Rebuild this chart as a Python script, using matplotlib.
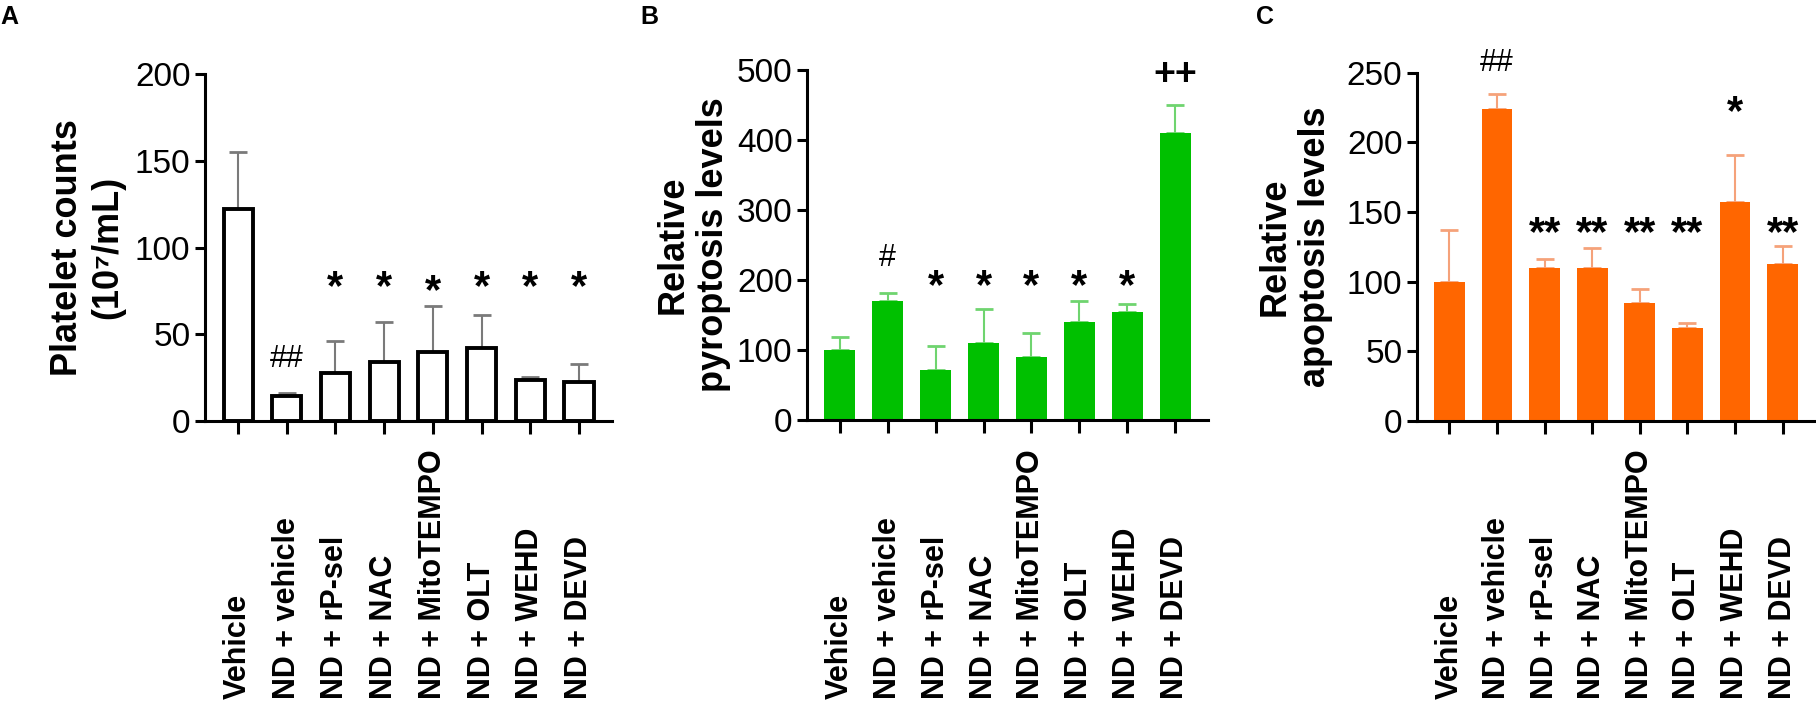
import matplotlib
matplotlib.use('Agg')
import matplotlib.pyplot as plt
import matplotlib.transforms as mtransforms

plt.rcParams['font.family'] = ['Liberation Sans', 'DejaVu Sans']

# --- data ---
groups = ['Vehicle', 'ND + vehicle', 'ND + rP-sel', 'ND + NAC',
          'ND + MitoTEMPO', 'ND + OLT', 'ND + WEHD', 'ND + DEVD']

# A: platelet counts (10^7/mL)
platelet_mean = [122, 14.5, 27.5, 34, 40, 42, 23.5, 22.5]
platelet_err = [33, 1.5, 18.5, 23, 26, 19, 2, 10.5]
platelet_marks = ['', '##', '*', '*', '*', '*', '*', '*']
platelet_mark_y = [0, 37.5, 82, 82, 80, 82, 82, 82]

# B: relative pyroptosis levels
pyro_mean = [100, 170, 71, 110, 90, 140, 155, 410]
pyro_err = [19, 12, 35, 48, 35, 30, 11, 40]
pyro_marks = ['', '#', '*', '*', '*', '*', '*', '++']
pyro_mark_y = [0, 236, 204, 204, 204, 204, 204, 496]

# C: relative apoptosis levels
apo_mean = [100, 224, 110, 110, 85, 66.5, 157.5, 113]
apo_err = [37, 11, 6.5, 14, 9.5, 3.5, 33.5, 12.5]
apo_marks = ['', '##', '**', '**', '**', '**', '*', '**']
apo_mark_y = [0, 259, 141, 141, 141, 141, 228, 141]

W, H = 1816, 705
fig = plt.figure(figsize=(W / 100, H / 100), dpi=100)


def px_rect(left, top, right, bottom):
    return [left / W, 1 - bottom / H, (right - left) / W, (bottom - top) / H]


def draw_panel(ax, means, errs, marks, mark_y, ymax, step, ylabel, label_x,
               face, edge, ecolor, width):
    x = list(range(len(means)))
    lw = 2.8 if face == 'white' else 0
    ax.errorbar(x, means, yerr=[[0] * len(errs), errs], fmt='none',
                ecolor=ecolor, elinewidth=1.5, capsize=6.5, capthick=2,
                zorder=1)
    ax.bar(x, means, width=width, color=face, edgecolor=edge, linewidth=lw,
           zorder=2)
    ax.set_xlim(-0.68, len(means) - 1 + 0.68)
    ax.set_ylim(0, ymax)
    ax.set_yticks(range(0, ymax + 1, step))
    ax.set_xticks(x)
    ax.set_xticklabels([])
    for s in ['top', 'right']:
        ax.spines[s].set_visible(False)
    for s in ['left', 'bottom']:
        ax.spines[s].set_linewidth(2.2)
    ax.tick_params(axis='y', length=7, width=2.2, labelsize=24, pad=3.5)
    ax.tick_params(axis='x', length=9, width=2.2)
    ax.set_ylabel(ylabel, fontsize=26, fontweight='bold', linespacing=1.2)
    ax.yaxis.set_label_coords(label_x, 0.5)

    # group names, bottom aligned
    trans = mtransforms.blended_transform_factory(ax.transData, fig.transFigure)
    for i, g in enumerate(groups):
        ax.text(i, 1 - 699 / H, g, transform=trans, rotation=90,
                ha='center', va='bottom', fontsize=22, fontweight='bold')

    # significance marks
    for i, (m, y) in enumerate(zip(marks, mark_y)):
        if not m:
            continue
        if '*' in m:
            fs, wt, off = 30, 'bold', -0.5
        elif '+' in m:
            fs, wt, off = 27, 'bold', -0.32
        else:
            fs, wt, off = 22, 'normal', -0.36
        ax.annotate(m, (i, y), xytext=(0, off * fs), textcoords='offset points',
                    ha='center', va='baseline', fontsize=fs, fontweight=wt,
                    annotation_clip=False)


axA = fig.add_axes(px_rect(205, 74, 612, 421))
draw_panel(axA, platelet_mean, platelet_err, platelet_marks, platelet_mark_y,
           200, 50, 'Platelet counts\n(10\u2077/mL)', -0.195,
           'white', 'black', '#7a7a7a', 0.6)

axB = fig.add_axes(px_rect(807, 70, 1208, 420))
draw_panel(axB, pyro_mean, pyro_err, pyro_marks, pyro_mark_y,
           500, 100, 'Relative\npyroptosis levels', -0.19,
           '#00c000', '#00c000', '#6fd46f', 0.65)

axC = fig.add_axes(px_rect(1417, 72.7, 1815, 421))
draw_panel(axC, apo_mean, apo_err, apo_marks, apo_mark_y,
           250, 50, 'Relative\napoptosis levels', -0.21,
           '#ff6600', '#ff6600', '#f5a27a', 0.65)

for lab, xpx in [('A', 0), ('B', 640), ('C', 1256)]:
    fig.text(xpx / W, 1 - 5 / H, lab, ha='left', va='top',
             fontsize=18, fontweight='bold')

fig.savefig('out.png', dpi=100)
